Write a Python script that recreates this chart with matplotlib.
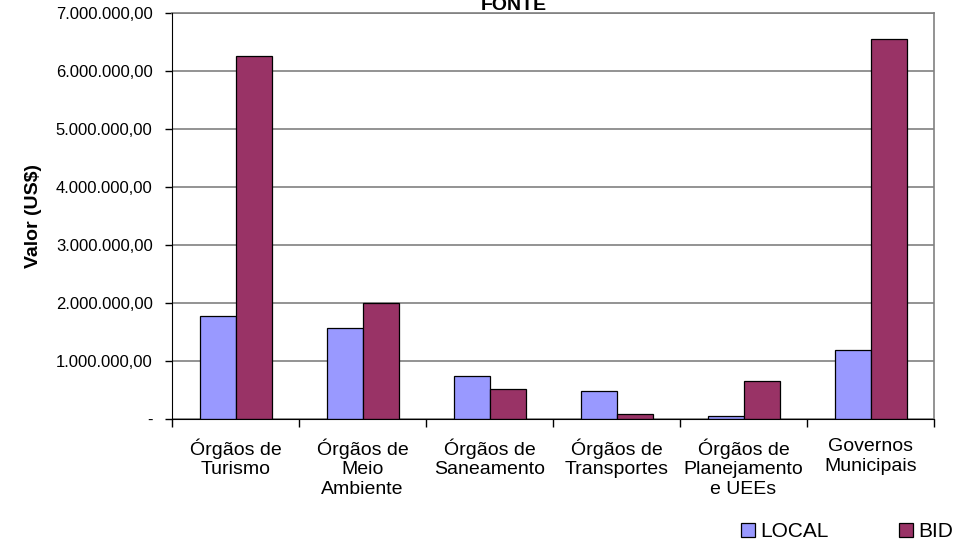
import matplotlib
matplotlib.use("Agg")
from matplotlib import pyplot as plt
from matplotlib.ticker import FuncFormatter, FixedLocator
import numpy as np

plt.rcParams["font.family"] = ["Liberation Sans", "DejaVu Sans"]

categorias = ["Órgãos de\nTurismo", "Órgãos de\nMeio\nAmbiente", "Órgãos de\nSaneamento",
              "Órgãos de\nTransportes", "Órgãos de\nPlanejamento\ne UEEs", "Governos\nMunicipais"]
local = [1770000, 1570000, 740000, 480000, 45000, 1180000]
bid = [6250000, 2000000, 505000, 80000, 655000, 6540000]
y_ticks = [0, 1000000, 2000000, 3000000, 4000000, 5000000, 6000000, 7000000]


def fmt_brl(v, pos):
    if v == 0:
        return "-"
    s = "{:,.2f}".format(v)
    return s.replace(",", "X").replace(".", ",").replace("X", ".")


fig = plt.figure(figsize=(9.79, 5.45), dpi=100)
ax = fig.add_axes([0.1757, 0.2318, 0.7784, 0.7449])

x = np.arange(len(categorias))
w = 0.2835
ax.bar(x - w / 2, local, w, color="#9999FF", edgecolor="black", linewidth=0.9, label="LOCAL", zorder=3)
ax.bar(x + w / 2, bid, w, color="#993366", edgecolor="black", linewidth=0.9, label="BID", zorder=3)

ax.set_xlim(-0.5, len(categorias) - 0.5)
ax.set_ylim(0, 7000000)
ax.set_yticks(y_ticks)
ax.yaxis.set_major_formatter(FuncFormatter(fmt_brl))
ax.tick_params(axis="y", labelsize=12, length=5, width=1, direction="out", pad=9)
ax.grid(axis="y", color="#808080", linewidth=1.2, zorder=0)

# ticks between categories, labels at the centres
ax.xaxis.set_major_locator(FixedLocator(np.arange(-0.5, len(categorias), 1.0)))
ax.xaxis.set_major_formatter(FuncFormatter(lambda v, p: ""))
ax.xaxis.set_minor_locator(FixedLocator(x))
ax.set_xticklabels(categorias, minor=True)
ax.tick_params(axis="x", which="major", length=6, width=1, direction="out")
ax.tick_params(axis="x", which="minor", length=0, labelsize=14, pad=14)
for lbl in ax.get_xticklabels(minor=True):
    lbl.set_linespacing(1.2)

for side in ["left", "bottom"]:
    ax.spines[side].set_color("black")
    ax.spines[side].set_zorder(4)
for side in ["top", "right"]:
    ax.spines[side].set_color("#808080")
    ax.spines[side].set_linewidth(1.2)

ax.set_ylabel("Valor (US$)", fontsize=14, fontweight="bold")
ax.yaxis.set_label_coords(-0.1706, 0.5)

fig.text(0.525, 0.982, "FONTE", fontsize=14, fontweight="bold", ha="center", va="baseline")

fig.legend(loc="center", bbox_to_anchor=(0.865, 0.024), ncol=2, frameon=False, fontsize=15,
           handlelength=0.67, handleheight=0.67, handletextpad=0.25, columnspacing=3.4,
           borderpad=0, borderaxespad=0)

fig.savefig("out.png", dpi=100)
